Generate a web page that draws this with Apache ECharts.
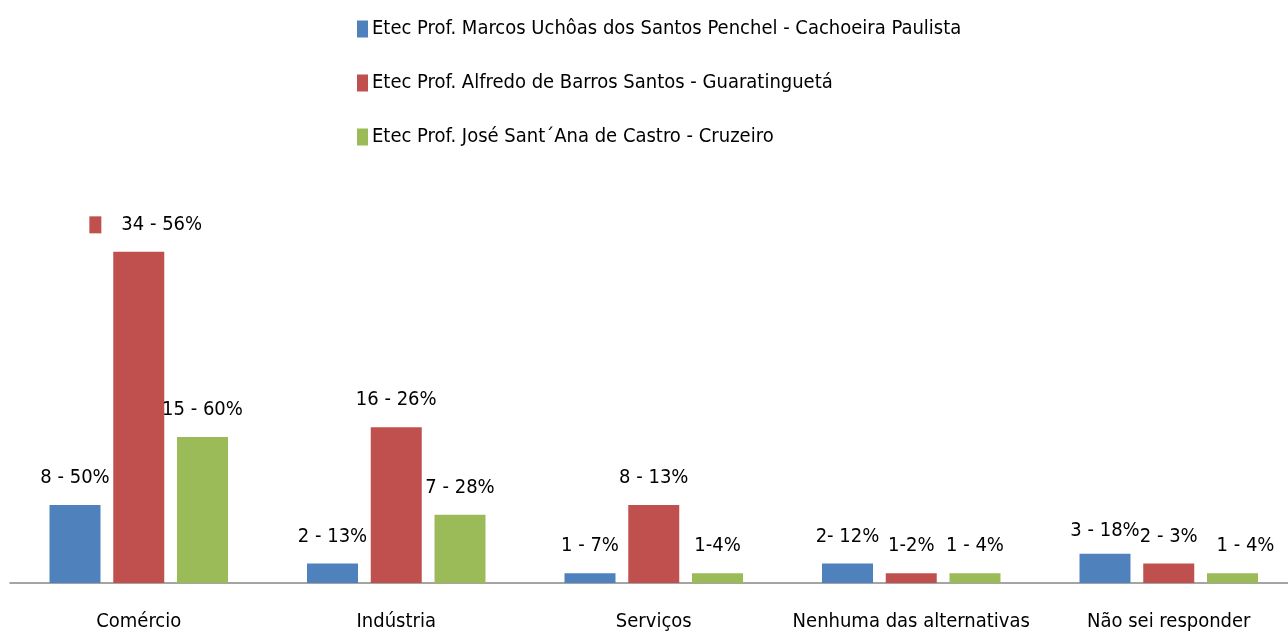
<!DOCTYPE html>
<html>
<head>
<meta charset="utf-8">
<script src="https://cdn.jsdelivr.net/npm/echarts@6/dist/echarts.min.js"></script>
<style>
  html, body { margin: 0; padding: 0; background: #fff; }
  #chart { width: 1288px; height: 635px; }
</style>
</head>
<body>
<div id="chart"></div>
<script>
const categories = ["Comércio", "Indústria", "Serviços", "Nenhuma das alternativas", "Não sei responder"];
const seriesNames = [
  "Etec Prof. Marcos Uchôas dos Santos Penchel - Cachoeira Paulista",
  "Etec Prof. Alfredo de Barros Santos - Guaratinguetá",
  "Etec Prof. José Sant´Ana de Castro - Cruzeiro",
];
const cachoeira = [8, 2, 1, 2, 3];
const guaratingueta = [34, 16, 8, 1, 2];
const cruzeiro = [15, 7, 1, 1, 1];
const cachoeiraLabels = ["8 - 50%", "2 - 13%", "1 - 7%", "2- 12%", "3 - 18%"];
const guaratinguetaLabels = ["34 - 56%", "16 - 26%", "8 - 13%", "1-2%", "2 - 3%"];
const cruzeiroLabels = ["15 - 60%", "7 - 28%", "1-4%", "1 - 4%", "1 - 4%"];

const colors = ["#4F81BD", "#C0504D", "#9BBB59"];
const font = "'Liberation Sans Narrow', 'DejaVu Sans Condensed', sans-serif";

const chart = echarts.init(document.getElementById("chart"));

// rótulo de dados no estilo do Excel
function makeData(values, labels, idx) {
  return values.map((v, i) => {
    const item = { value: v, label: { formatter: labels[i] } };
    // o rótulo do Comércio/Guaratinguetá vem com a chave da legenda
    if (idx === 1 && i === 0) {
      item.label = {
        formatter: "{k|}{t|" + labels[i] + "}",
        offset: [7, 0],
        rich: {
          k: { backgroundColor: colors[1], width: 12, height: 17 },
          t: { fontSize: 20, color: "#000", padding: [0, 0, 0, 20] },
        },
      };
    }
    if (idx === 0 && i === 4) {
      item.label = { formatter: labels[i], offset: [0, 4] };
    }
    if (idx === 2 && i === 4) {
      item.label = { formatter: labels[i], offset: [13, 0] };
    }
    return item;
  });
}

const option = {
  animation: false,
  color: colors,
  textStyle: { fontFamily: font },
  legend: {
    orient: "vertical",
    left: 352,
    top: 14,
    itemWidth: 11,
    itemHeight: 17,
    itemGap: 34,
    textStyle: { fontSize: 20, color: "#000", fontFamily: font, padding: [0, 0, 0, -1] },
    icon: "rect",
    data: seriesNames,
  },
  grid: {
    left: 10,
    width: 1287.5,
    top: 193.4,
    bottom: 52,
    containLabel: false,
    outerBoundsMode: "none",
  },
  xAxis: {
    type: "category",
    data: categories,
    axisLine: { lineStyle: { color: "#868686", width: 1.5 } },
    axisTick: { show: false },
    axisLabel: { fontSize: 20, color: "#000", margin: 29, fontFamily: font, interval: 0 },
  },
  yAxis: {
    type: "value",
    min: 0,
    max: 40,
    show: false,
    splitLine: { show: false },
  },
  series: [
    [cachoeira, cachoeiraLabels],
    [guaratingueta, guaratinguetaLabels],
    [cruzeiro, cruzeiroLabels],
  ].map(([vals, labs], idx) => ({
    name: seriesNames[idx],
    type: "bar",
    barWidth: 51,
    barGap: "25%",
    data: makeData(vals, labs, idx),
    label: {
      show: true,
      position: "top",
      distance: 17,
      fontSize: 20,
      color: "#000",
      fontFamily: font,
    },
  })),
};

chart.setOption(option);
</script>
</body>
</html>
